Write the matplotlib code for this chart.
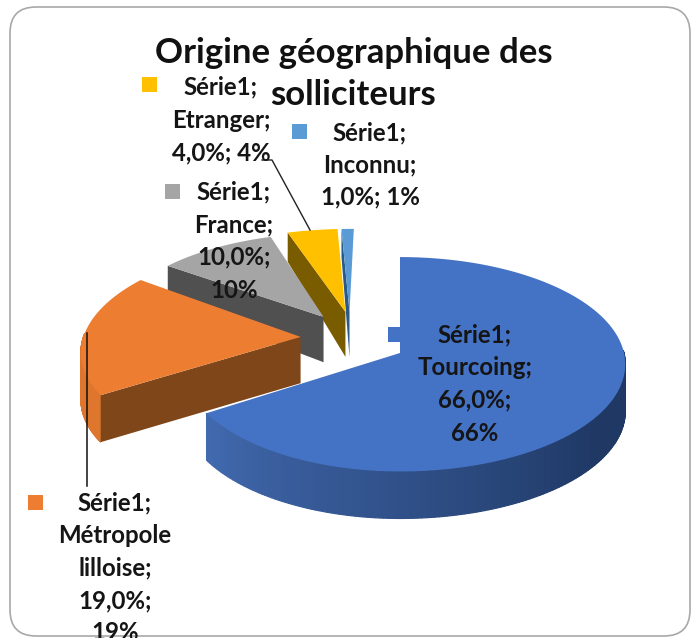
import numpy as np
import matplotlib
matplotlib.use('Agg')
import matplotlib.pyplot as plt
from matplotlib.patches import FancyBboxPatch, Rectangle
from matplotlib.colors import to_rgb

plt.rcParams['font.family'] = ['Lato', 'DejaVu Sans']

titre = ["Origine géographique des", "solliciteurs"]
serie = "Série1"
categories = ["Tourcoing", "Métropole lilloise", "France", "Etranger", "Inconnu"]
valeurs = [66.0, 19.0, 10.0, 4.0, 1.0]

couleurs = ["#4472C4", "#ED7D31", "#A5A5A5", "#FFC000", "#5B9BD5"]
couleurs_cote = ["#2F528F", "#7F4719", "#505050", "#7A5C00", "#2B5A86"]
couleurs_mur = ["#2F528F", "#DE772D", "#8A8A8A", "#B08500", "#3F78AD"]

# decalage de chaque part dans le plan du camembert
decalage_x = [0.0, -0.451, -0.354, -0.254, -0.235]
decalage_y = [0.0, 0.154, 0.353, 0.405, 0.405]
# les parts du fond paraissent un peu plus courtes
echelle_y = [1.0, 1.0, 0.93, 0.93, 0.93]
echelle_x = [0.965, 0.985, 0.965, 1.02, 1.0]

# projection
CX, CY = 400, 353
A, B, K = 224, 106, 0.105
EPAIS = 47


def projeter(x, y):
    s = 1 / (1 + K * y)
    return CX + A * x * s, CY - B * y * s


def epaisseur(y):
    s = 1 / (1 + K * y)
    return min(EPAIS * s, EPAIS - 20 * max(y - 0.4, 0))


def point(angle, i):
    a = np.radians(angle)
    sx = np.sin(a)
    if sx < 0:
        sx = sx * echelle_x[i]
    return decalage_x[i] + sx, decalage_y[i] + echelle_y[i] * np.cos(a)


def dessiner_part(ax, i, debut, fin):
    angles = np.linspace(debut, fin, 240)
    arc = [point(a, i) for a in angles]

    # mur exterieur
    for j in range(len(angles) - 1):
        if np.cos(np.radians(angles[j])) > 0.03:
            continue
        x0, y0 = arc[j]
        x1, y1 = arc[j + 1]
        px0, py0 = projeter(x0, y0)
        px1, py1 = projeter(x1, y1)
        if i == 0:
            t = np.clip((angles[j] - 125) / 110, 0, 1)
            c = np.array(to_rgb("#1F3864")) * (1 - t) + np.array(to_rgb("#4169AE")) * t
        else:
            c = couleurs_mur[i]
        ax.fill([px0, px1, px1, px0],
                [py0, py1, py1 + epaisseur(y1), py0 + epaisseur(y0)],
                color=c, lw=0.9, zorder=2)

    # face laterale visible
    centre = projeter(decalage_x[i], decalage_y[i])
    d_centre = epaisseur(decalage_y[i])
    pb = projeter(*arc[0])
    if i > 0:
        ax.fill([centre[0], pb[0], pb[0], centre[0]],
                [centre[1], pb[1], pb[1] + epaisseur(arc[0][1]), centre[1] + d_centre],
                color=couleurs_cote[i], lw=0, zorder=2)

    # dessus
    pts = [projeter(*p) for p in arc]
    xs = [centre[0]] + [p[0] for p in pts]
    ys = [centre[1]] + [p[1] for p in pts]
    ax.fill(xs, ys, color=couleurs[i], lw=0, zorder=2)


fig = plt.figure(figsize=(6.91, 6.38), dpi=100)
ax = fig.add_axes([0, 0, 1, 1])
ax.set_xlim(0, 691)
ax.set_ylim(638, 0)
ax.axis('off')

ax.add_patch(FancyBboxPatch((10, 7), 680, 629, boxstyle="round,pad=0,rounding_size=26",
                            fc="white", ec="#a8a8a8", lw=1.2, zorder=0))

# angles dans le sens horaire depuis midi
bornes = np.concatenate([[0], np.cumsum(valeurs)]) * 3.6
for i in [4, 3, 2, 1, 0]:
    dessiner_part(ax, i, bornes[i], bornes[i + 1])

# lignes de rappel
ax.plot([262, 272, 310], [160, 160, 230], color="#222222", lw=1, zorder=3)
ax.plot([87, 87], [333, 486], color="#111111", lw=1.1, zorder=3)

# titre
for ligne, y in zip(titre, [53, 95]):
    ax.text(353.5, y, ligne, ha='center', va='center', fontsize=25, fontweight='bold',
            color="#111111", zorder=5)


def pct(v):
    return f"{v:.1f}".replace('.', ',') + "%;"


# etiquettes
etiquettes = [
    [serie + ";", categories[0] + ";", pct(valeurs[0]), f"{valeurs[0]:.0f}%"],
    [serie + ";", "Métropole", "lilloise;", pct(valeurs[1]), f"{valeurs[1]:.0f}%"],
    [serie + ";", categories[2] + ";", pct(valeurs[2]), f"{valeurs[2]:.0f}%"],
    [serie + ";", categories[3] + ";", pct(valeurs[3]) + f" {valeurs[3]:.0f}%"],
    [serie + ";", categories[4] + ";", pct(valeurs[4]) + f" {valeurs[4]:.0f}%"],
]
centres_x = [475, 115, 234, 221, 370]
hauts_y = [335, 503, 192, 87, 133]
pas_y = [32.7, 32.5, 32.7, 33, 32]
cles = [(388, 327), (28, 495), (165, 184), (142, 77), (292, 124)]

for i in range(5):
    for n, ligne in enumerate(etiquettes[i]):
        ax.text(centres_x[i], hauts_y[i] + n * pas_y[i], ligne, ha='center', va='center',
                fontsize=17.3, fontweight='bold', color="#151515", zorder=5)
    ax.add_patch(Rectangle(cles[i], 15, 15, fc=couleurs[i], ec='none', zorder=4))

plt.savefig("out.png", dpi=100)
